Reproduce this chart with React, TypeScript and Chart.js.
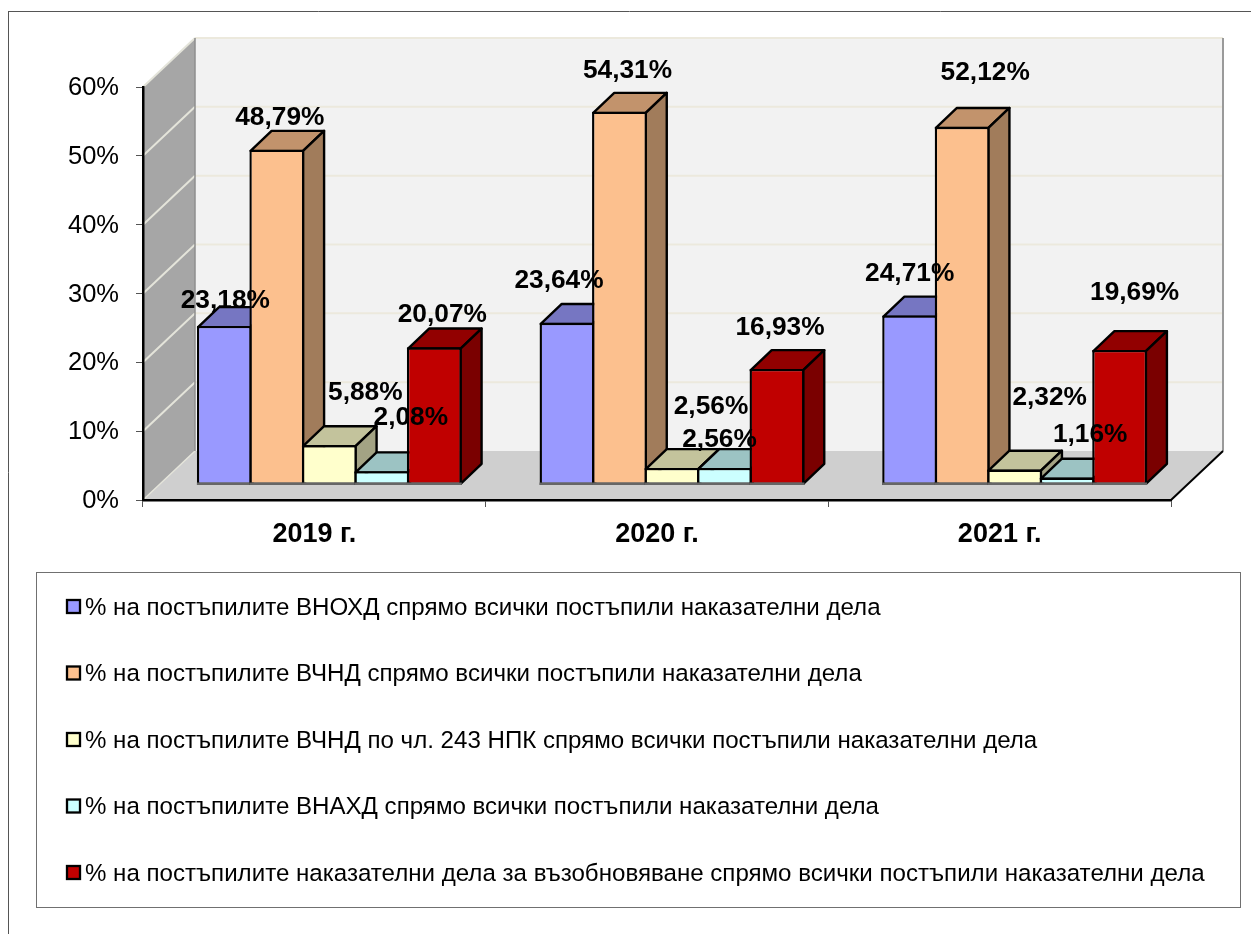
import React, { useEffect, useRef } from "react";
import { Chart, registerables } from "chart.js";

Chart.register(...registerables);

const categories = ["2019 г.", "2020 г.", "2021 г."];
const seriesNames = [
  "% на постъпилите ВНОХД спрямо всички постъпили наказателни дела",
  "% на постъпилите ВЧНД спрямо всички постъпили наказателни дела",
  "% на постъпилите ВЧНД по чл. 243 НПК спрямо всички постъпили наказателни дела",
  "% на постъпилите ВНАХД спрямо всички постъпили наказателни дела",
  "% на постъпилите наказателни дела за възобновяване спрямо всички постъпили наказателни дела",
];
const vnohd = [23.18, 23.64, 24.71];
const vchnd = [48.79, 54.31, 52.12];
const vchnd243 = [5.88, 2.56, 2.32];
const vnahd = [2.08, 2.56, 1.16];
const reopen = [20.07, 16.93, 19.69];
const seriesValues = [vnohd, vchnd, vchnd243, vnahd, reopen];

const frontColors = ["#9999ff", "#fcc08e", "#ffffcc", "#ccffff", "#c00000"];
const topColors = ["#7676c2", "#c2936c", "#c3c39c", "#9cc3c3", "#920000"];
const sideColors = ["#62629f", "#a17c5b", "#a3a384", "#84a3a3", "#7a0000"];

// label displacement from the top-centre of each bar's front face
const labelShift = [
  [[1, -27], [-8, -44], [0, -44]],
  [[3, -34], [8, -43], [23, -56]],
  [[36, -54], [39, -63], [35, -74]],
  [[29, -55], [-5, -30], [23, -45]],
  [[8, -35], [3, -43], [15, -59]],
];

const FONT = '"Liberation Sans", Arial, sans-serif';
const WALL_DX = 52;
const WALL_DY = 49;
const BAR_SHIFT_X = 15;
const BAR_SHIFT_Y = -14.5;
const BAR_DX = 21;
const BAR_DY = 20;
const BAR_LINE = 2.4;
const GRID_VALUES = [10, 20, 30, 40, 50, 60];

function poly(ctx: CanvasRenderingContext2D, pts: number[][]) {
  ctx.beginPath();
  pts.forEach((p, i) => (i ? ctx.lineTo(p[0], p[1]) : ctx.moveTo(p[0], p[1])));
  ctx.closePath();
}

function line(ctx: CanvasRenderingContext2D, x1: number, y1: number, x2: number, y2: number, color: string, w: number) {
  ctx.strokeStyle = color;
  ctx.lineWidth = w;
  ctx.beginPath();
  ctx.moveTo(x1, y1);
  ctx.lineTo(x2, y2);
  ctx.stroke();
}

const scene3d = {
  id: "scene3d",
  beforeDraw(chart: any) {
    const { ctx, scales } = chart;
    const y = scales.y;
    const x = scales.x;
    const L = x.left;
    const R = x.right;
    const B = y.getPixelForValue(0);
    const T = y.getPixelForValue(60);
    ctx.save();
    // outer chart frame
    line(ctx, 8.5, 11, 8.5, 934, "#555555", 1);
    line(ctx, 8, 11.5, 1251, 11.5, "#555555", 1);
    // walls and floor
    ctx.fillStyle = "#f2f2f2";
    ctx.fillRect(L + WALL_DX, T - WALL_DY, R - L, B - T);
    ctx.fillStyle = "#a6a6a6";
    poly(ctx, [[L, B], [L + WALL_DX, B - WALL_DY], [L + WALL_DX, T - WALL_DY], [L, T]]);
    ctx.fill();
    ctx.fillStyle = "#cfcfcf";
    poly(ctx, [[L, B], [R, B], [R + WALL_DX, B - WALL_DY], [L + WALL_DX, B - WALL_DY]]);
    ctx.fill();
    // gridlines
    GRID_VALUES.forEach((v) => {
      const py = y.getPixelForValue(v);
      line(ctx, L + WALL_DX, py - WALL_DY, R + WALL_DX, py - WALL_DY, "#ece9dd", 2);
      line(ctx, L, py, L + WALL_DX, py - WALL_DY, "#e4e4da", 2);
    });
    line(ctx, L, B, L + WALL_DX, B - WALL_DY, "#e4e4da", 1.5);
    line(ctx, L + WALL_DX, T - WALL_DY, L + WALL_DX, B - WALL_DY, "#8e8e8e", 1.5);
    line(ctx, R + WALL_DX, T - WALL_DY, R + WALL_DX, B - WALL_DY, "#9a9a9a", 2);
    line(ctx, R, B, R + WALL_DX, B - WALL_DY, "#000000", 2);
    ctx.restore();
  },
  beforeDatasetsDraw(chart: any) {
    const { ctx } = chart;
    ctx.save();
    ctx.translate(BAR_SHIFT_X, BAR_SHIFT_Y);
    const inset = BAR_LINE / 2;
    chart.data.datasets.forEach((_: any, i: number) => {
      const meta = chart.getDatasetMeta(i);
      meta.data.forEach((bar: any) => {
        const left = bar.x - bar.width / 2 + inset;
        const right = bar.x + bar.width / 2 - inset;
        const top = bar.y + inset;
        const bottom = bar.base - inset;
        ctx.lineWidth = BAR_LINE;
        ctx.strokeStyle = "#000000";
        ctx.lineJoin = "round";
        ctx.fillStyle = topColors[i];
        poly(ctx, [[left, top], [left + BAR_DX, top - BAR_DY], [right + BAR_DX, top - BAR_DY], [right, top]]);
        ctx.fill();
        ctx.stroke();
        ctx.fillStyle = sideColors[i];
        poly(ctx, [[right, top], [right + BAR_DX, top - BAR_DY], [right + BAR_DX, bottom - BAR_DY], [right, bottom]]);
        ctx.fill();
        ctx.stroke();
      });
      meta.controller.draw();
      meta.data.forEach((bar: any) => {
        line(ctx, bar.x - bar.width / 2, bar.base - inset, bar.x + bar.width / 2, bar.base - inset, "#666666", BAR_LINE);
      });
    });
    ctx.restore();
    return false;
  },
  afterDraw(chart: any) {
    const { ctx } = chart;
    ctx.save();
    // data labels
    ctx.fillStyle = "#000000";
    ctx.font = `bold 26.3px ${FONT}`;
    ctx.textAlign = "center";
    ctx.textBaseline = "middle";
    chart.data.datasets.forEach((ds: any, i: number) => {
      chart.getDatasetMeta(i).data.forEach((bar: any, j: number) => {
        const text = ds.data[j].toFixed(2).replace(".", ",") + "%";
        const s = labelShift[i][j];
        ctx.fillText(text, bar.x + BAR_SHIFT_X + s[0], bar.y + BAR_SHIFT_Y + s[1] + 2);
      });
    });
    // legend
    const bx = 36.5;
    const by = 572.5;
    ctx.strokeStyle = "#707070";
    ctx.lineWidth = 1;
    ctx.strokeRect(bx, by, 1204, 335);
    ctx.font = `24.1px ${FONT}`;
    ctx.textAlign = "left";
    ctx.fillStyle = "#000000";
    chart.data.datasets.forEach((ds: any, i: number) => {
      const cy = 607 + i * 66.5;
      ctx.fillStyle = frontColors[i];
      ctx.strokeStyle = "#000000";
      ctx.lineWidth = 2.3;
      ctx.fillRect(67, cy - 7, 13, 13);
      ctx.strokeRect(67, cy - 7, 13, 13);
      ctx.fillStyle = "#000000";
      ctx.fillText(ds.label, 85, cy + 1);
    });
    ctx.restore();
  },
};

export default function App() {
  const ref = useRef<HTMLCanvasElement>(null);
  useEffect(() => {
    const chart = new Chart(ref.current as HTMLCanvasElement, {
      type: "bar",
      data: {
        labels: categories,
        datasets: seriesNames.map((name, i) => ({
          label: name,
          data: seriesValues[i],
          backgroundColor: frontColors[i],
          borderColor: "#000000",
          borderWidth: BAR_LINE,
          borderSkipped: false,
          categoryPercentage: 0.766,
          barPercentage: 1.046,
        })),
      },
      options: {
        responsive: false,
        animation: false,
        events: [],
        layout: { padding: { left: 0, top: 87, right: 80, bottom: 0 } },
        plugins: { legend: { display: false }, tooltip: { enabled: false }, title: { display: false } },
        scales: {
          x: {
            grid: { drawOnChartArea: false, color: "#555555", tickLength: 7, tickWidth: 1 },
            border: { color: "#000000", width: 2.5 },
            ticks: {
              color: "#000000",
              padding: 11,
              maxRotation: 0,
              autoSkip: false,
              font: { family: FONT, size: 27, weight: "bold" },
            },
            afterFit: (s: any) => {
              s.height = 434;
            },
          },
          y: {
            min: 0,
            max: 60,
            grid: { drawOnChartArea: false, color: "#555555", tickLength: 7, tickWidth: 1 },
            border: { color: "#000000", width: 2.5 },
            ticks: {
              stepSize: 10,
              color: "#000000",
              padding: 17,
              labelOffset: 1,
              font: { family: FONT, size: 25.5 },
              callback: (v: any) => `${v}%`,
            },
            afterFit: (s: any) => {
              s.width = 143;
            },
          },
        },
      },
      plugins: [scene3d],
    } as any);
    return () => chart.destroy();
  }, []);
  return (
    <canvas
      ref={ref}
      width={1251}
      height={934}
      style={{ position: "absolute", left: 0, top: 0, display: "block", width: 1251, height: 934 }}
    />
  );
}
